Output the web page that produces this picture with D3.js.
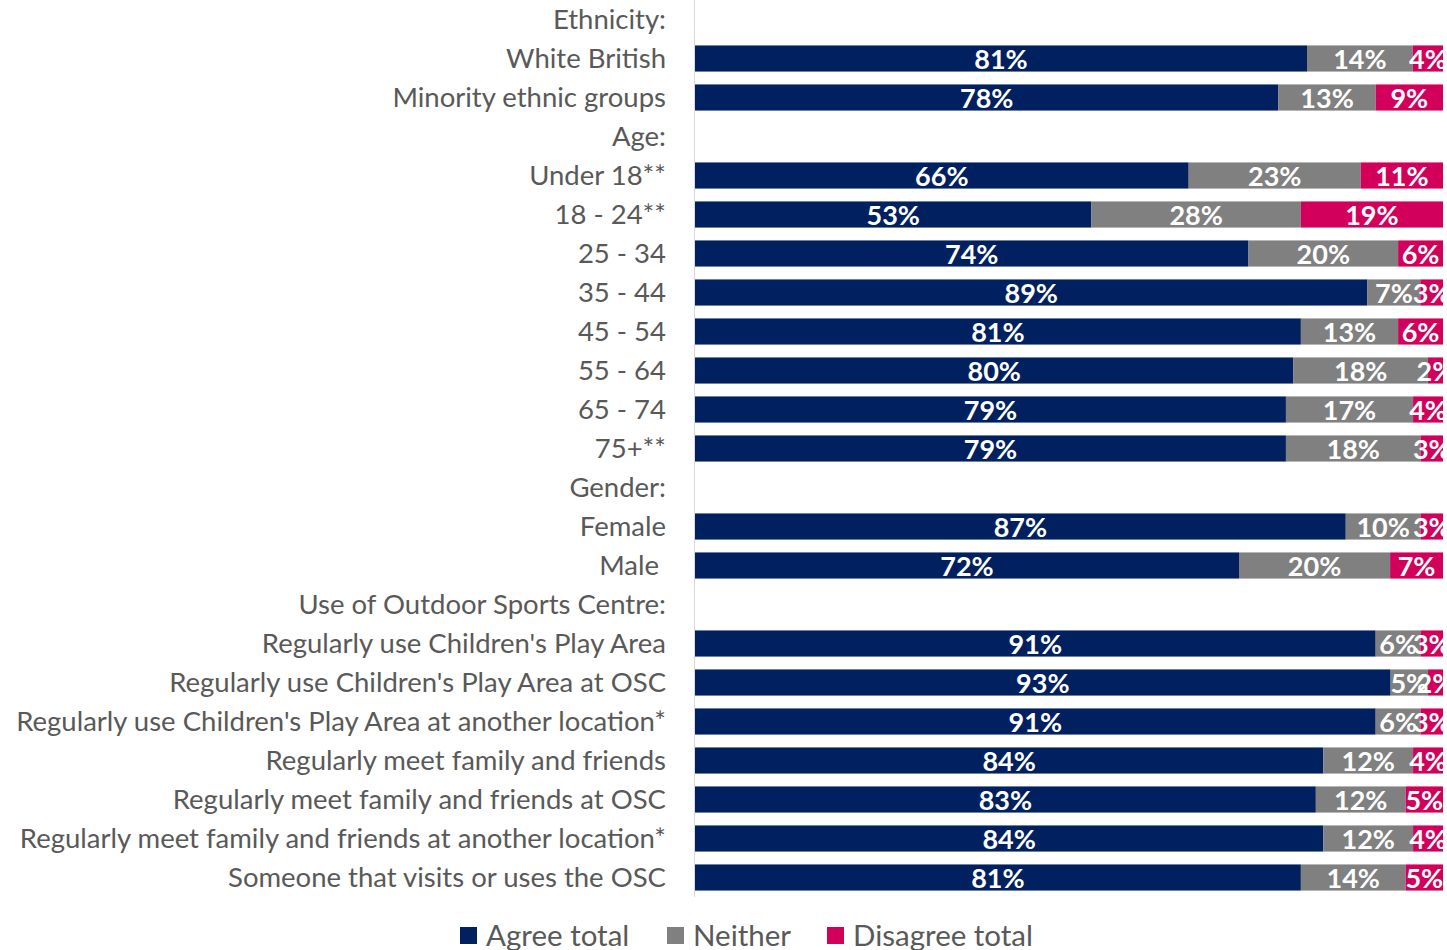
<!DOCTYPE html>
<html>
<head>
<meta charset="utf-8">
<script src="https://cdn.jsdelivr.net/npm/d3@7"></script>
<style>
  body { margin: 0; background: #fff; }
  svg { display: block; font-family: Lato, "Open Sans", sans-serif; }
  text { white-space: pre; }
</style>
</head>
<body>
<svg id="chart" width="1447" height="950"></svg>
<script>
// rows, headers have no bars
const categories = [
  "Ethnicity:", "White British", "Minority ethnic groups",
  "Age:", "Under 18**", "18 - 24**", "25 - 34", "35 - 44", "45 - 54", "55 - 64", "65 - 74", "75+**",
  "Gender:", "Female", "Male ",
  "Use of Outdoor Sports Centre:",
  "Regularly use Children's Play Area",
  "Regularly use Children's Play Area at OSC",
  "Regularly use Children's Play Area at another location*",
  "Regularly meet family and friends",
  "Regularly meet family and friends at OSC",
  "Regularly meet family and friends at another location*",
  "Someone that visits or uses the OSC"
];

const agree    = [null, 81, 78, null, 66, 53, 74, 89, 81, 80, 79, 79, null, 87, 72, null, 91, 93, 91, 84, 83, 84, 81];
const neither  = [null, 14, 13, null, 23, 28, 20, 7, 13, 18, 17, 18, null, 10, 20, null, 6, 5, 6, 12, 12, 12, 14];
const disagree = [null, 4, 9, null, 11, 19, 6, 3, 6, 2, 4, 3, null, 3, 7, null, 3, 2, 3, 4, 5, 4, 5];

const seriesNames = ["Agree total", "Neither", "Disagree total"];
const colors = ["#002060", "#808080", "#d2005a"];

const rows = categories.map((c, i) => ({
  cat: c,
  "Agree total": agree[i],
  "Neither": neither[i],
  "Disagree total": disagree[i]
}));
const barRows = rows.filter(d => d["Agree total"] != null);

const svg = d3.select("#chart");
const x0 = 695, x1 = 1443;

const y = d3.scaleBand().domain(categories).range([0, 897]).paddingInner(0.33).paddingOuter(0.165);
const x = d3.scaleLinear().domain([0, 1]).range([x0, x1]);

const stack = d3.stack().keys(seriesNames).offset(d3.stackOffsetExpand);
const series = stack(barRows);

// labels that overflow the plot get cut at its right edge, like the original
svg.append("defs").append("clipPath").attr("id", "plotclip")
  .append("rect").attr("x", x0).attr("y", 0).attr("width", x1 - x0 + 1).attr("height", 900);

// category labels
svg.append("g").selectAll("text")
  .data(categories)
  .join("text")
  .attr("x", 666)
  .attr("y", d => y(d) + y.bandwidth() / 2)
  .attr("dy", "0.36em")
  .attr("text-anchor", "end")
  .attr("font-size", 27.5)
  .attr("fill", "#595959")
  .text(d => d);

// axis line
svg.append("line")
  .attr("x1", 694.5).attr("x2", 694.5)
  .attr("y1", 0).attr("y2", 897)
  .attr("stroke", "#d9d9d9").attr("stroke-width", 1);

const plot = svg.append("g").attr("clip-path", "url(#plotclip)");

const groups = plot.selectAll("g.series")
  .data(series)
  .join("g")
  .attr("class", "series")
  .attr("fill", (d, i) => colors[i]);

groups.selectAll("rect")
  .data(d => d)
  .join("rect")
  .attr("x", d => x(d[0]))
  .attr("y", d => y(d.data.cat))
  .attr("width", d => x(d[1]) - x(d[0]))
  .attr("height", y.bandwidth());

groups.selectAll("text")
  .data(d => d.map(v => ({ v, key: d.key })))
  .join("text")
  .attr("x", d => (x(d.v[0]) + x(d.v[1])) / 2)
  .attr("y", d => y(d.v.data.cat) + y.bandwidth() / 2)
  .attr("dy", "0.38em")
  .attr("text-anchor", "middle")
  .attr("fill", "#fff")
  .attr("font-weight", "bold")
  .attr("font-size", 27)
  .text(d => d.v.data[d.key] + "%");

// legend
const legendX = [460, 667, 827];
const legend = svg.append("g").selectAll("g")
  .data(seriesNames)
  .join("g")
  .attr("transform", (d, i) => `translate(${legendX[i]},927)`);
legend.append("rect")
  .attr("width", 17).attr("height", 17)
  .attr("fill", (d, i) => colors[i]);
legend.append("text")
  .attr("x", 26).attr("y", 8.5)
  .attr("dy", "0.36em")
  .attr("font-size", 29.5)
  .attr("fill", "#595959")
  .text(d => d);
</script>
</body>
</html>
